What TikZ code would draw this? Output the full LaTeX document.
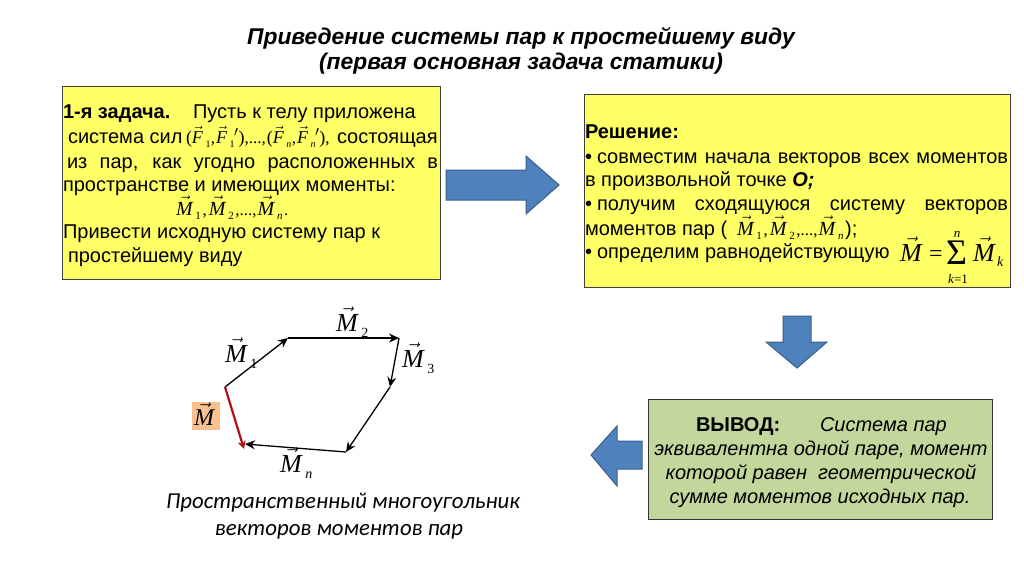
\documentclass[tikz,border=0pt]{standalone}
\usepackage{fontspec}
\setmainfont{Liberation Sans}
\newfontfamily\tmr{Liberation Serif}
\newfontfamily\crl{Carlito}
\usetikzlibrary{arrows.meta}
\newcommand{\fs}[1]{\fontsize{#1}{#1}\selectfont}
% vector letter with subscript, #1 letter size, #2 letter, #3 subscript
\newcommand{\vecl}[3]{{\fs{#1}$\vec{\mbox{\tmr\itshape #2}}$\kern.14em\raisebox{-0.24em}{\fs{\numexpr #1*55/100\relax}\tmr\itshape #3}\kern.08em}}
\newcommand{\one}{{\upshape 1}}
\newcommand{\two}{{\upshape 2}}
\newcommand{\three}{{\upshape 3}}
\newcommand{\cmm}{{\tmr\fs{17},\kern2pt}}
\newcommand{\dts}{{\tmr\fs{17},...,\kern1pt}}
\newcommand{\prm}{{\kern-1pt\tmr\fs{19}$'$}}
\newcommand{\ff}[1]{\vecl{18}{F}{#1}\kern-1pt}
\tikzset{
  txt/.style={anchor=base west,inner sep=0pt,outer sep=0pt,font=\fs{20}},
  gtxt/.style={anchor=base,inner sep=0pt,outer sep=0pt,font=\fs{20}\itshape},
  math/.style={anchor=base west,inner sep=0pt,outer sep=0pt},
  ybox/.style={draw=black!75,line width=0.8pt,fill=myyellow},
  gbox/.style={draw=black!80,line width=0.8pt,fill=mygreen},
  blockarrow/.style={draw=myblueedge,line width=1pt,fill=myblue,line join=miter},
  vecline/.style={line width=1.3pt,-{Stealth[length=10pt,width=9pt]}},
  redline/.style={line width=2.2pt,draw=myred,-{Stealth[length=8pt,width=8pt]}},
  lab/.style={inner sep=0pt,outer sep=0pt,anchor=base west},
}
\definecolor{myyellow}{HTML}{FFFF66}
\definecolor{mygreen}{HTML}{C3D69B}
\definecolor{myblue}{HTML}{4F81BD}
\definecolor{myblueedge}{HTML}{385D8A}
\definecolor{myred}{HTML}{B00F14}
\definecolor{mypeach}{HTML}{FAC090}
\begin{document}
\begin{tikzpicture}[x=1pt,y=-1pt]
\useasboundingbox (0,0) rectangle (1024,574);
% titles
\node[anchor=base,inner sep=0pt,font=\fs{22.8}\bfseries\itshape] (t1) at (521,44) {Приведение системы пар к простейшему виду};
\node[anchor=base,inner sep=0pt,font=\fs{22.8}\bfseries\itshape] (t2) at (521,69) {(первая основная задача статики)};
% boxes
\path[ybox] (62,86) rectangle (440,279);
\path[ybox] (584,94) rectangle (1010,287);
\path[gbox] (648,399) rectangle (992,519);
% left text
\node[txt] (l1a) at (63,118) {\textbf{1-я задача.}};
\node[txt] (l1b) at (193,118) {Пусть к телу приложена};
\node[txt] (l2a) at (68,143) {система сил};
\node[math] (l2f) at (186,143) {{\tmr\fs{18}(}\ff{\one}{\tmr\fs{17},\kern1pt}\ff{\one}\prm{\tmr\fs{18})}\dts{\tmr\fs{18}(}\ff{n}{\tmr\fs{17},\kern1pt}\ff{n}\prm{\tmr\fs{18})}{\tmr\fs{17},}};
\node[txt] (l2b) at (337,143) {состоящая};
\node[txt] (l3) at (67,168) {\makebox[371pt][s]{из пар, как угодно расположенных в}};
\node[txt] (l4) at (63,191) {пространстве и имеющих моменты:};
\node[math] (l5) at (176,215) {\vecl{20}{M}{\one}\cmm\vecl{20}{M}{\two}\dts\vecl{20}{M}{n}{\tmr\fs{17}.}};
\node[txt] (l6) at (63,238) {Привести исходную систему пар к};
\node[txt] (l7) at (68,262) {простейшему виду};
% right text
\node[txt] (r1) at (585,138) {\textbf{Решение:}};
\node[txt] (b1) at (585,163) {•};
\node[txt] (r2) at (597,163) {\makebox[411pt][s]{совместим начала векторов всех моментов}};
\node[txt] (r3) at (585,186) {в произвольной точке \textbf{\textit{О;}}};
\node[txt] (b2) at (585,210) {•};
\node[txt] (r4) at (597,210) {\makebox[411pt][s]{получим сходящуюся систему векторов}};
\node[txt] (r5a) at (585,235) {моментов пар (};
\node[math] (r5f) at (737,235) {\vecl{20}{M}{\one}\cmm\vecl{20}{M}{\two}\dts\vecl{20}{M}{n}{\fs{20});}};
\node[txt] (b3) at (585,258) {•};
\node[txt] (r6) at (597,258) {определим равнодействующую};
\node[math] (s1) at (900,261) {\vecl{26}{M}{}};
\node[math] (s2) at (929,261) {{\tmr\fs{24}=}};
\node[math] (s3) at (946,264) {{\tmr\fs{36}Σ}};
\node[math] (s4) at (973,261) {\vecl{26}{M}{}};
\node[math] (s5) at (997,266) {{\tmr\itshape\fs{14}k}};
\node[anchor=base,inner sep=0pt] (s6) at (957,237) {{\tmr\itshape\fs{13}n}};
\node[anchor=base,inner sep=0pt] (s7) at (958,283) {{\tmr\fs{13}\textit{k}=1}};
% green text
\node[txt,font=\fs{20}\bfseries] (g1a) at (696,431) {ВЫВОД:};
\node[txt,font=\fs{20}\itshape] (g1b) at (820,431) {Система пар};
\node[gtxt] (g2) at (821,455) {эквивалентна одной паре, момент};
\node[gtxt] (g3) at (821,479) {которой равен\ \ геометрической};
\node[gtxt] (g4) at (820,503) {сумме моментов исходных пар.};
% block arrows
\draw[blockarrow] (446,170) -- (526,170) -- (526,156) -- (559,185) -- (526,214) -- (526,200) -- (446,200) -- cycle;
\draw[blockarrow] (783,316) -- (811,316) -- (811,342) -- (827,342) -- (797,368) -- (766,342) -- (783,342) -- cycle;
\draw[blockarrow] (642,441) -- (617,441) -- (617,426) -- (591,455) -- (617,486) -- (617,469) -- (642,469) -- cycle;
% polygon
\coordinate (A) at (225,387);
\coordinate (B) at (288,338);
\coordinate (C) at (399,338);
\coordinate (D) at (390,387);
\coordinate (E) at (346,452);
\coordinate (F) at (245,444);
\coordinate (G) at (244,449);
\draw[vecline] (A) -- (B);
\draw[vecline] (B) -- (C);
\draw[vecline] (C) -- (D);
\draw[vecline] (D) -- (E);
\draw[vecline] (E) -- (F);
\draw[redline] (A) -- (G);
\node[lab] (m1) at (225,362) {\vecl{26}{M}{\one}};
\node[lab] (m2) at (336,331) {\vecl{26}{M}{\two}};
\node[lab] (m3) at (402,367) {\vecl{26}{M}{\three}};
\node[lab] (mn) at (280,472) {\vecl{26}{M}{n}};
\node[fill=mypeach,minimum width=28pt,minimum height=28pt,inner sep=0pt,anchor=north west] (mbox) at (192,402) {};
\node[lab] (ml) at (194,425) {\vecl{24}{M}{}};
% caption
\node[anchor=base,inner sep=0pt,font=\crl\fs{22.8}\itshape] (c1) at (343,508) {Пространственный многоугольник};
\node[anchor=base,inner sep=0pt,font=\crl\fs{22.8}\itshape] (c2) at (339,535) {векторов моментов пар};
\end{tikzpicture}
\end{document}
